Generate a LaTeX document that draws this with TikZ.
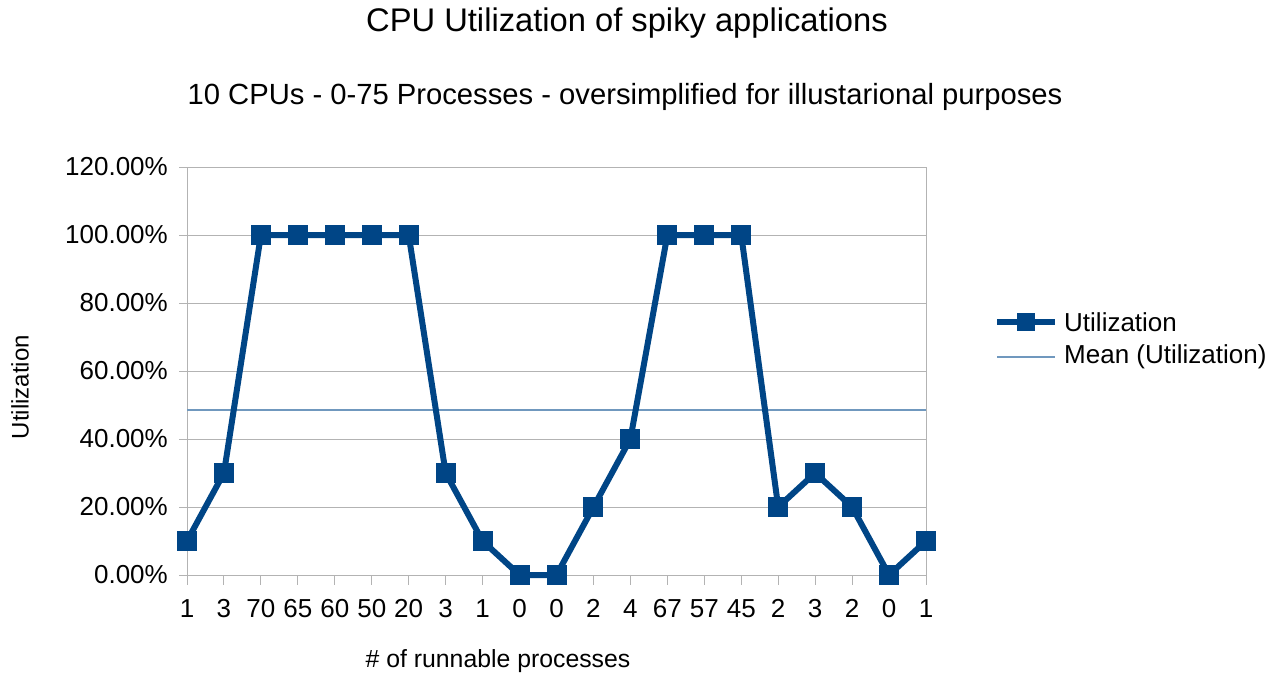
\documentclass[tikz,border=0pt]{standalone}
\usepackage{fontspec}
\setmainfont{Liberation Sans}
\definecolor{series}{RGB}{0,69,134}
\definecolor{meanline}{RGB}{112,152,190}
\definecolor{grid}{RGB}{179,179,179}
\begin{document}
\begin{tikzpicture}[x=1pt,y=-1pt,
  gridline/.style={draw=grid,line width=1pt},
  ticklab/.style={font=\fontsize{26}{26}\selectfont,inner sep=0pt},
  serieslink/.style={draw=series,line width=6pt,line join=round},
  marker/.style={fill=series,minimum size=20pt,inner sep=0pt,outer sep=0pt,rectangle},
  meanstyle/.style={draw=meanline,line width=1.6pt}]
\useasboundingbox (0,0) rectangle (1268,674);
% horizontal grid and y labels
\foreach \v [count=\i from 0] in {0.00,20.00,40.00,60.00,80.00,100.00,120.00}{
  \pgfmathsetmacro\yy{575-68*\i}
  \draw[gridline] (179,\yy) -- (926,\yy);
  \node[ticklab,anchor=east] (yl\i) at (168,\yy) {\v\%};
}
% axes frame
\draw[gridline] (187,167) -- (187,585);
\draw[gridline] (926,167) -- (926,585);
% category ticks and labels
\foreach \c [count=\i from 0] in {1,3,70,65,60,50,20,3,1,0,0,2,4,67,57,45,2,3,2,0,1}{
  \pgfmathsetmacro\xx{187+36.95*\i}
  \draw[gridline] (\xx,575) -- (\xx,585);
  \node[ticklab,anchor=base] (xl\i) at (\xx,617) {\c};
}
% mean line
\coordinate (m0) at (187,409.9);
\coordinate (m1) at (926,409.9);
\draw[meanstyle] (m0) -- (m1);
% data series
\foreach \v [count=\i from 0] in {10,30,100,100,100,100,100,30,10,0,0,20,40,100,100,100,20,30,20,0,10}{
  \coordinate (p\i) at ({187+36.95*\i},{575-3.4*\v});
}
\draw[serieslink] (p0) \foreach \i in {1,...,20}{ -- (p\i)};
\foreach \i in {0,...,20}{ \node[marker] (mk\i) at (p\i) {}; }
% titles
\node[font=\fontsize{32.7}{32.7}\selectfont] (title) at (627,23) {CPU Utilization of spiky applications};
\node[font=\fontsize{29.2}{29.2}\selectfont] (subtitle) at (625,97) {10 CPUs - 0-75 Processes - oversimplified for illustarional purposes};
\node[font=\fontsize{24}{24}\selectfont,rotate=90] (ytitle) at (20,387) {Utilization};
\node[font=\fontsize{24.8}{24.8}\selectfont] (xtitle) at (498,661) {\# of runnable processes};
% legend
\coordinate (la) at (997,322);
\coordinate (lb) at (1055,322);
\draw[serieslink] (la) -- (lb);
\node[marker,minimum size=18pt] (lm) at (1026,322) {};
\node[ticklab,anchor=west] (lt1) at (1064,322) {Utilization};
\coordinate (lc) at (997,357);
\coordinate (ld) at (1055,357);
\draw[meanstyle] (lc) -- (ld);
\node[ticklab,anchor=west] (lt2) at (1064,357) {Mean (Utilization)};
\end{tikzpicture}
\end{document}
